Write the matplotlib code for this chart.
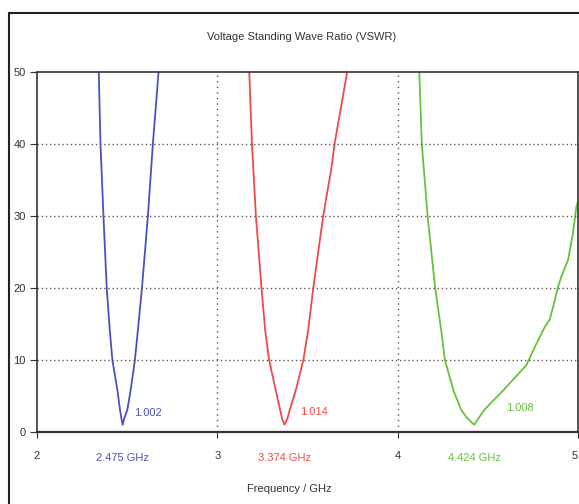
import matplotlib.pyplot as plt
from matplotlib.patches import Rectangle

plt.rcParams['font.family'] = ['Liberation Sans', 'DejaVu Sans']

# VSWR curves (frequency in GHz)
freq_blue = [2.3425, 2.352, 2.3685, 2.3867, 2.4033, 2.418, 2.4459, 2.4602, 2.468,
             2.475, 2.484, 2.5011, 2.5193, 2.543, 2.5597, 2.582, 2.615, 2.6425, 2.674]
vswr_blue = [50, 40, 30, 20, 14.2, 10, 5.8, 3.1, 1.9,
             1.002, 1.9, 3.1, 5.8, 10, 14.2, 20, 30, 40, 50]

freq_red = [3.177, 3.192, 3.214, 3.245, 3.265, 3.287, 3.324, 3.348, 3.360, 3.372,
            3.388, 3.402, 3.435, 3.477, 3.504, 3.532, 3.587, 3.631, 3.650, 3.683, 3.720]
vswr_red = [50, 40, 30, 20, 14.2, 10, 5.8, 3.1, 1.8, 1.014,
            1.8, 3.1, 5.8, 10, 14.2, 20, 30, 36.4, 40, 44.7, 50]

freq_green = [4.120, 4.134, 4.166, 4.208, 4.241, 4.262, 4.309, 4.352, 4.383, 4.424,
              4.481, 4.586, 4.714, 4.770, 4.816, 4.843, 4.862, 4.890, 4.908, 4.945,
              4.972, 4.991, 5.0]
vswr_green = [50, 40, 30, 20, 14.2, 10, 5.8, 3.1, 2.0, 1.008,
              3.1, 5.8, 9.3, 12.3, 14.6, 15.6, 17.4, 20.2, 21.6, 23.9,
              27.6, 31.3, 32.0]

min_freqs = [2.475, 3.374, 4.424]
min_vswr = [1.002, 1.014, 1.008]
colors = ['#4a50c4', '#f04a44', '#66c23a']

fig = plt.figure(figsize=(5.79, 5.04), dpi=100)
fig.patch.set_facecolor('white')
# outer frame of the window
fig.patches.append(Rectangle((9 / 579, -0.1), 1.2, 1 - 13 / 504 + 0.1,
                             transform=fig.transFigure, fill=False,
                             edgecolor='#222222', linewidth=1.5))

ax = fig.add_axes([37 / 579, 72 / 504, 541 / 579, 360 / 504])
ax.plot(freq_blue, vswr_blue, color=colors[0], lw=1.3)
ax.plot(freq_red, vswr_red, color=colors[1], lw=1.3)
ax.plot(freq_green, vswr_green, color=colors[2], lw=1.3)

ax.set_xlim(2, 5)
ax.set_ylim(0, 50)
ax.set_xticks([2, 3, 4, 5])
ax.set_yticks([0, 10, 20, 30, 40, 50])
ax.tick_params(axis='x', length=4, pad=10, labelsize=8, colors='#333333')
ax.tick_params(axis='y', length=5, pad=3, labelsize=8, colors='#333333')
ax.get_xticklabels()[-1].set_ha('right')

for y in [10, 20, 30, 40]:
    ax.axhline(y, color='#6b5555', lw=1, ls=(0, (1, 2)))
for x in [3, 4]:
    ax.axvline(x, color='#555555', lw=1, ls=(0, (1, 3)))

for s in ax.spines.values():
    s.set_color('#333333')
    s.set_linewidth(1.2)
ax.spines['bottom'].set_linewidth(1.6)

label_dx = [0.061, 0.085, 0.178]
label_y = [2.6, 2.8, 3.3]
for f, v, c, dx, ly in zip(min_freqs, min_vswr, colors, label_dx, label_y):
    ax.text(f + dx, ly, '%.3f' % v, color=c, fontsize=8, ha='left', va='center')
    ax.annotate('%.3f GHz' % f, xy=(f, -0.071), xycoords=('data', 'axes fraction'),
                color=c, fontsize=8, ha='center', va='center')

fig.text(302 / 579, 1 - 37 / 504, 'Voltage Standing Wave Ratio (VSWR)',
         fontsize=8, ha='center', va='center', color='#333333')
fig.text(289 / 579, 1 - 489 / 504, 'Frequency / GHz',
         fontsize=8, ha='center', va='center', color='#333333')

fig.savefig('out.png', dpi=100)
